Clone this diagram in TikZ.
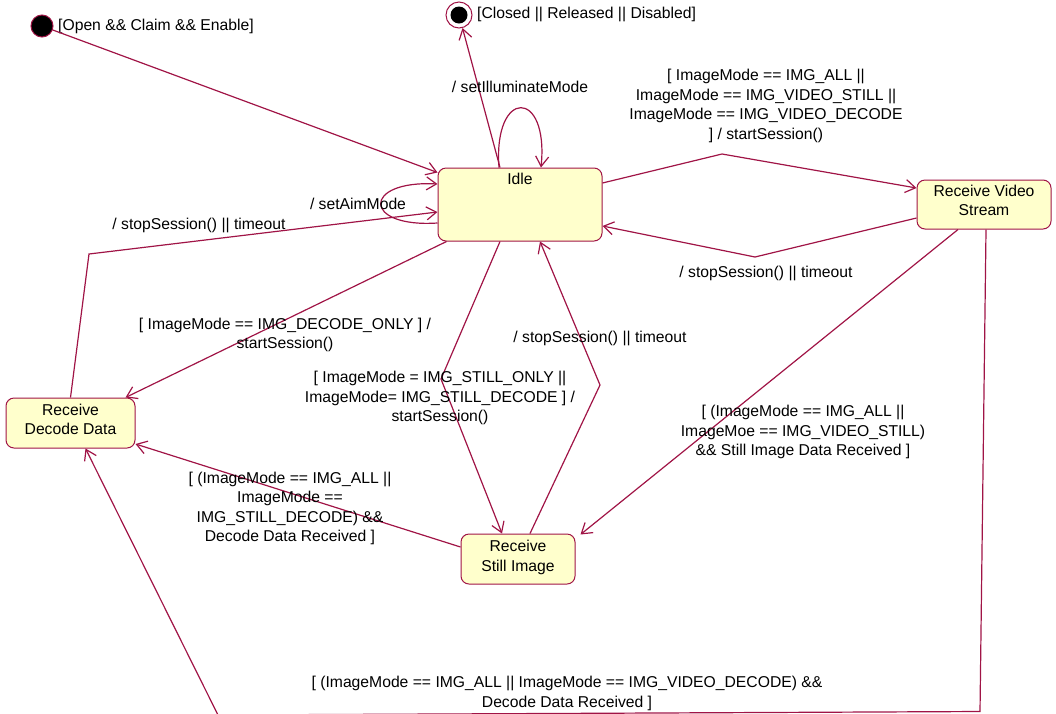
\documentclass[tikz,border=0pt]{standalone}
\usepackage{fontspec}
\setmainfont{Liberation Sans}
\usetikzlibrary{arrows.meta,calc}
\definecolor{edgecol}{RGB}{160,20,70}
\definecolor{statefill}{RGB}{255,255,204}
\begin{document}
\begin{tikzpicture}[x=1pt,y=-1pt,
  every node/.style={font=\fontsize{15.7}{19.5}\selectfont},
  state/.style={draw=edgecol, fill=statefill, rounded corners=8pt, line width=1pt, align=center, inner sep=0pt},
  tr/.style={draw=edgecol, line width=1.2pt, -{Straight Barb[length=10pt,width=13pt]}},
  lbl/.style={align=center, inner sep=0pt}]
\useasboundingbox (0,0) rectangle (1056,713);

% states
\node[state, minimum width=164pt, minimum height=73pt] (idle) at (520,204.5) {};
\node[lbl, anchor=north] (idlet) at ($(idle.north)+(0,5)$) {Idle};
\node[state, minimum width=134pt, minimum height=49pt] (video) at (984,204.5) {};
\node[lbl] (videot) at ($(video)+(0,-4)$) {Receive Video\\Stream};
\node[state, minimum width=129pt, minimum height=50pt] (decode) at (70.5,423) {};
\node[lbl] (decodet) at ($(decode)+(0,-3.5)$) {Receive\\Decode Data};
\node[state, minimum width=114pt, minimum height=50pt] (still) at (518,559) {};
\node[lbl] (stillt) at ($(still)+(0,-1.5)$) {Receive\\Still Image};

% initial and final
\node[circle, draw=edgecol, fill=black, minimum size=22pt, inner sep=0pt, line width=1pt] (init) at (42,26) {};
\node[lbl, anchor=west] (initl) at (58,26) {[Open \&\& Claim \&\& Enable]};
\node[circle, draw=edgecol, fill=white, minimum size=26pt, inner sep=0pt, line width=1pt] (final) at (459,15) {};
\node[circle, fill=black, minimum size=17pt, inner sep=0pt] (finalin) at (final) {};
\node[lbl, anchor=west] (finall) at (477,14) {[Closed || Released || Disabled]};

% transitions
\draw[tr] (init) -- ($(idle.west)+(0,-32)$);
\draw[tr] ($(idle.north)+(-20,0)$) -- (final);
\draw[tr] ($(idle.north)+(-21,0)$) .. controls (493,88) and (549,88) .. ($(idle.north)+(21,0)$);
\draw[tr] ($(idle.west)+(0,18.5)$) .. controls (362,228) and (362,180) .. ($(idle.west)+(0,-20.5)$);
\draw[tr] (decode.north) -- (89,254) -- ($(idle.west)+(0,7.5)$);
\draw[tr] ($(idle.east)+(0,-21.5)$) -- (722,154) -- ($(video.west)+(0,-16.5)$);
\draw[tr] ($(video.west)+(0,13.5)$) -- (755,257) -- ($(idle.east)+(0,21.5)$);
\draw[tr] ($(idle.south west)+(9,0)$) -- ($(decode.north east)+(-10,0)$);
\draw[tr] ($(idle.south)+(-20,0)$) -- (441,379) -- ($(still.north)+(-16,0)$);
\draw[tr] ($(still.north)+(12,0)$) -- (600,385) -- ($(idle.south)+(20,0)$);
\draw[tr] ($(video.south)+(-26,0)$) -- ($(still.north east)+(5,1)$);
\draw[tr] ($(still.west)+(0,-12)$) -- ($(decode.east)+(0,21)$);
\draw[tr] ($(video.south)+(2,0)$) -- (980,711.5) -- (218,715) -- ($(decode.south)+(15,0)$);

% labels
\node[lbl] (l1) at (520,87) {/ setIlluminateMode};
\node[lbl] (l2) at (358,204) {/ setAimMode};
\node[lbl] (l3) at (199,225) {/ stopSession() || timeout};
\node[lbl] (l4) at (766,106) {[ ImageMode == IMG\_ALL ||\\ImageMode == IMG\_VIDEO\_STILL ||\\ImageMode == IMG\_VIDEO\_DECODE\\] / startSession()};
\node[lbl] (l5) at (766,273) {/ stopSession() || timeout};
\node[lbl] (l6) at (285,335) {[ ImageMode == IMG\_DECODE\_ONLY ] /\\startSession()};
\node[lbl] (l7) at (440,398) {[ ImageMode = IMG\_STILL\_ONLY ||\\ImageMode= IMG\_STILL\_DECODE ] /\\startSession()};
\node[lbl] (l8) at (600,338) {/ stopSession() || timeout};
\node[lbl] (l9) at (803,432) {[ (ImageMode == IMG\_ALL ||\\ImageMoe == IMG\_VIDEO\_STILL)\\\&\& Still Image Data Received ]};
\node[lbl] (l10) at (290,508.5) {[ (ImageMode == IMG\_ALL ||\\ImageMode ==\\IMG\_STILL\_DECODE) \&\&\\Decode Data Received ]};
\node[lbl] (l11) at (567,693.5) {[ (ImageMode == IMG\_ALL || ImageMode == IMG\_VIDEO\_DECODE) \&\&\\Decode Data Received ]};
\end{tikzpicture}
\end{document}
